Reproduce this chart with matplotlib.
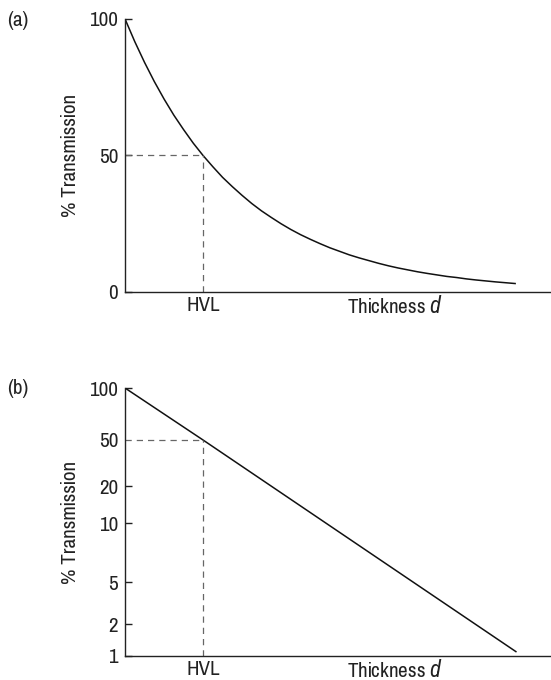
import numpy as np
import matplotlib
matplotlib.use("Agg")
from matplotlib import pyplot as plt

fams = ["Pragati Narrow", "Archivo Narrow", "Roboto Condensed", "Liberation Sans"]
plt.rcParams["font.family"] = fams
plt.rcParams["mathtext.fontset"] = "custom"
plt.rcParams["mathtext.it"] = "Roboto Condensed:italic"
plt.rcParams["mathtext.rm"] = "Pragati Narrow"

# thickness in units of HVL, transmission in %
hvl = 1.0
half = 50
thickness_a = [0, 0.125, 0.25, 0.375, 0.5, 0.625, 0.75, 0.875, 1.0, 1.125, 1.25,
               1.375, 1.5, 1.625, 1.75, 1.875, 2.0, 2.125, 2.25, 2.375, 2.5,
               2.625, 2.75, 2.875, 3.0, 3.125, 3.25, 3.375, 3.5, 3.625, 3.75,
               3.875, 4.0, 4.125, 4.25, 4.375, 4.5, 4.625, 4.75, 4.875, 5.0]
transmission_a = [100, 91.7, 84.1, 77.1, 70.7, 64.8, 59.5, 54.5, 50, 45.9, 42.0,
                  38.6, 35.4, 32.4, 29.7, 27.3, 25, 22.9, 21.0, 19.3, 17.7,
                  16.2, 14.9, 13.6, 12.5, 11.5, 10.5, 9.6, 8.8, 8.1, 7.4,
                  6.8, 6.25, 5.7, 5.3, 4.8, 4.4, 4.05, 3.7, 3.4, 3.1]
yticks_a = [0, 50, 100]

thickness_b = [0, 1.0, 5.01]
transmission_b = [100, 50, 1.1]
yticks_b = [1, 2, 5, 10, 20, 50, 100]
# where each tick value sits on the (hand drawn) axis, 0 = bottom, 1 = top
tick_frac_b = [0, 0.119, 0.276, 0.496, 0.634, 0.806, 1.0]

xmax = 5.46
fs = 16.5


def fwd(v):
    v = np.clip(np.asarray(v, dtype=float), 1e-3, None)
    return np.interp(np.log10(v), np.log10(yticks_b), tick_frac_b)


def inv(f):
    return 10 ** np.interp(f, tick_frac_b, np.log10(yticks_b))


def style_axes(ax, dash_tick):
    for s in ["top", "right"]:
        ax.spines[s].set_visible(False)
    for s in ["left", "bottom"]:
        ax.spines[s].set_linewidth(1.0)
        ax.spines[s].set_color("#222222")
    ax.tick_params(axis="y", direction="in", length=5, width=1.0, pad=5,
                   labelsize=fs, color="#222222", labelcolor="#222222")
    ax.tick_params(axis="x", length=0, pad=3, labelsize=fs, labelcolor="#222222")
    ax.set_xlim(0, xmax)
    ax.set_xticks([hvl])
    ax.set_xticklabels(["HVL"])
    ax.set_xlabel("Thickness $d$", fontsize=fs, color="#222222")
    ax.xaxis.set_label_coords(3.46 / xmax, -0.01, transform=ax.transAxes)
    ax.xaxis.label.set_verticalalignment("top")
    ax.set_ylabel("% Transmission", fontsize=fs, color="#222222")
    ax.yaxis.set_label_coords(-0.105, 0.5)
    for t in ax.yaxis.get_major_ticks():
        if t.get_loc() == dash_tick:
            t.tick1line.set_visible(False)


fig = plt.figure(figsize=(5.51, 6.8), dpi=100)

ax1 = fig.add_axes([0.2269, 0.5706, 0.7731, 0.4015])
ax1.plot(thickness_a, transmission_a, color="#111111", lw=1.1)
ax1.plot([0, hvl], [half, half], color="#666666", lw=0.9, ls=(0, (5, 4)))
ax1.plot([hvl, hvl], [0, half], color="#666666", lw=0.9, ls=(0, (5, 4)))
ax1.set_ylim(0, 100)
ax1.set_yticks(yticks_a)
style_axes(ax1, half)

ax2 = fig.add_axes([0.2269, 0.0353, 0.7731, 0.3941])
ax2.set_yscale("function", functions=(fwd, inv))
ax2.plot(thickness_b, transmission_b, color="#111111", lw=1.1)
ax2.plot([0, hvl], [half, half], color="#666666", lw=0.9, ls=(0, (5, 4)))
ax2.plot([hvl, hvl], [1, half], color="#666666", lw=0.9, ls=(0, (5, 4)))
ax2.set_ylim(1, 100)
ax2.set_yticks(yticks_b)
ax2.set_yticklabels([str(v) for v in yticks_b])
ax2.minorticks_off()
style_axes(ax2, half)

fig.text(18 / 551, 1 - 20 / 680, "(a)", fontsize=fs, ha="center", va="center",
         color="#222222")
fig.text(18 / 551, 1 - 388 / 680, "(b)", fontsize=fs, ha="center", va="center",
         color="#222222")

plt.savefig("out.png", dpi=100)
